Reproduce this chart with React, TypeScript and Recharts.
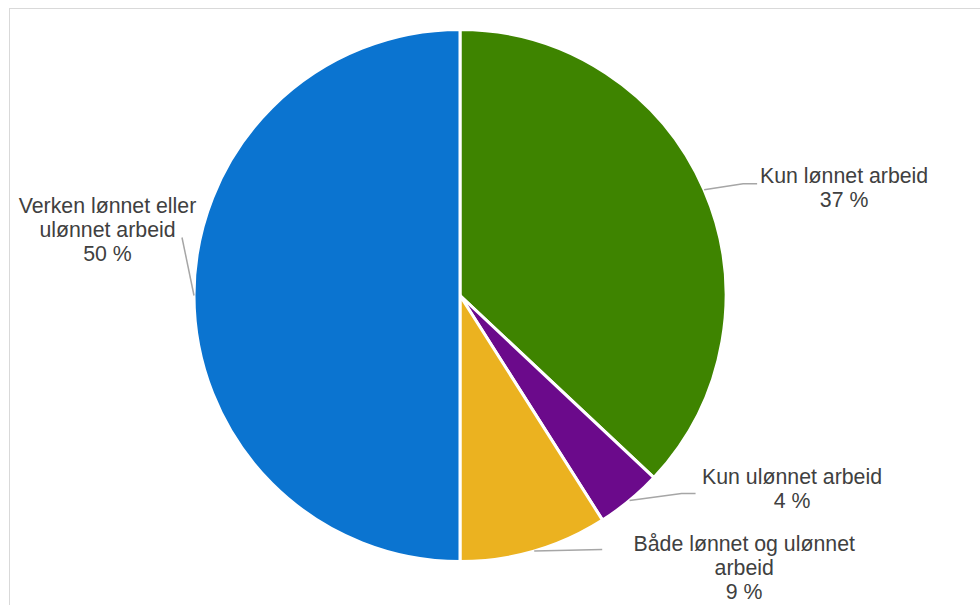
import React from "react";
import { PieChart, Pie, Cell } from "recharts";

const categories = [
  "Kun lønnet arbeid",
  "Kun ulønnet arbeid",
  "Både lønnet og ulønnet arbeid",
  "Verken lønnet eller ulønnet arbeid",
];
const values = [37, 4, 9, 50];
const valueLabels = ["37 %", "4 %", "9 %", "50 %"];
const labelLines = [
  ["Kun lønnet arbeid", "37 %"],
  ["Kun ulønnet arbeid", "4 %"],
  ["Både lønnet og ulønnet", "arbeid", "9 %"],
  ["Verken lønnet eller", "ulønnet arbeid", "50 %"],
];
const colors = ["#3E8400", "#6B0A8B", "#EBB220", "#0B74D0"];

// label layout (offsets from the slice's outer mid point)
const labelLayout = [
  { path: [[39, -6], [53, -6]], tx: 140, ty: -6.4 },
  { path: [[52, -7], [66, -7]], tx: 162.5, ty: -16 },
  { path: [[68, -1.5]], tx: 210, ty: 0 },
  { path: [[-12, -58]], tx: -86.5, ty: -83 },
];

const data = categories.map((name, i) => ({ name, value: values[i], pct: valueLabels[i] }));

const RAD = Math.PI / 180;

const renderLabel = (props: any) => {
  const { cx, cy, midAngle, outerRadius, index } = props;
  const ax = cx + Math.cos(-midAngle * RAD) * outerRadius;
  const ay = cy + Math.sin(-midAngle * RAD) * outerRadius;
  const lay = labelLayout[index];
  const pts = [[ax, ay], ...lay.path.map(([dx, dy]) => [ax + dx, ay + dy])];
  const d = pts.map((p, i) => `${i === 0 ? "M" : "L"}${p[0]},${p[1]}`).join(" ");
  const lines = labelLines[index];
  return (
    <g key={`lbl-${index}`}>
      <path d={d} stroke="#A6A6A6" strokeWidth={1.5} fill="none" />
      <text
        x={ax + lay.tx}
        y={ay + lay.ty}
        textAnchor="middle"
        fill="#404040"
        fontFamily="'Liberation Sans', Arial, sans-serif"
        fontSize={21.3}
      >
        {lines.map((t, i) => (
          <tspan key={i} x={ax + lay.tx} dy={i === 0 ? 0 : 24}>
            {t}
          </tspan>
        ))}
      </text>
    </g>
  );
};

export default function App() {
  return (
    <div
      style={{
        position: "fixed",
        left: 0,
        top: 0,
        width: 980,
        height: 605,
        overflow: "hidden",
        background: "#fff",
      }}
    >
      <div
        style={{
          position: "absolute",
          left: 9,
          top: 8,
          width: 1100,
          height: 800,
          border: "1.5px solid #D9D9D9",
          boxSizing: "border-box",
        }}
      />
      <div style={{ position: "absolute", left: 0, top: 0 }}>
        <PieChart width={980} height={605} margin={{ top: 0, right: 0, bottom: 0, left: 0 }}>
          <Pie
            data={data}
            dataKey="value"
            nameKey="name"
            cx={460}
            cy={295.5}
            outerRadius={266}
            startAngle={90}
            endAngle={-270}
            stroke="#FFFFFF"
            strokeWidth={3}
            label={renderLabel}
            labelLine={false}
            isAnimationActive={false}
          >
            {data.map((d, i) => (
              <Cell key={d.name} fill={colors[i]} />
            ))}
          </Pie>
        </PieChart>
      </div>
    </div>
  );
}
